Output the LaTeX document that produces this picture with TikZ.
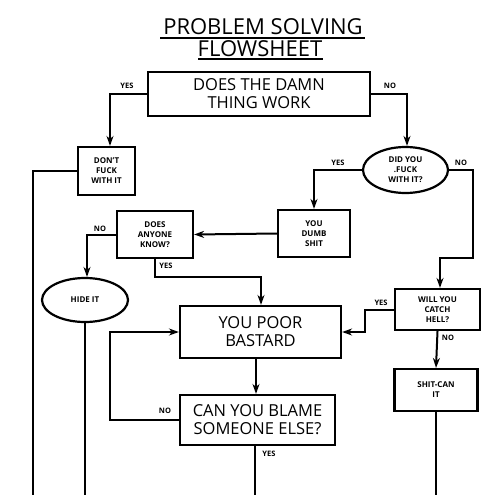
\documentclass[tikz,border=0pt]{standalone}
\usepackage{fontspec}
\setmainfont{Open Sans}
\usetikzlibrary{arrows.meta,shapes.geometric}
\begin{document}
\begin{tikzpicture}[x=1pt,y=-1pt,line width=2pt,
  box/.style={draw,rectangle,inner sep=0pt,align=center,line width=2.2pt},
  oval/.style={draw,ellipse,inner sep=0pt,align=center,line width=2.2pt},
  big/.style={font=\fontsize{16.5}{18}\selectfont},
  small/.style={font=\fontsize{8}{10}\selectfont\bfseries},
  lbl/.style={font=\fontsize{7.5}{9}\selectfont\bfseries,inner sep=0pt},
  arr/.style={-{Stealth[length=10pt,width=7pt]}},
  ln/.style={line width=2pt}]
\useasboundingbox (0,0) rectangle (500,495);
\fill[white] (0,0) rectangle (500,495);
% title
\node[font=\fontsize{22}{24}\selectfont,inner sep=0pt] (t1) at (263,27) {PROBLEM SOLVING};
\node[font=\fontsize{22}{24}\selectfont,inner sep=0pt] (t2) at (260,49) {FLOWSHEET};
\draw[line width=1.6pt] (160,38) -- (365,38);
\draw[line width=1.6pt] (198,59) -- (323,59);
% nodes
\node[box,big,minimum width=222pt,minimum height=44pt] (b1) at (259,94) {DOES THE DAMN\\THING WORK};
\node[box,small,minimum width=57pt,minimum height=48pt] (dont) at (106.5,171) {DON'T\\FUCK\\WITH IT};
\node[oval,small,minimum width=85pt,minimum height=46pt] (did) at (405.5,170) {DID YOU\\.FUCK\\WITH IT?};
\node[box,small,minimum width=72pt,minimum height=47pt] (dumb) at (314,233.5) {YOU\\DUMB\\SHIT};
\node[box,small,minimum width=76pt,minimum height=47pt] (anyone) at (155,234.5) {DOES\\ANYONE\\KNOW?};
\node[oval,small,minimum width=86pt,minimum height=44pt] (hide) at (85,300) {HIDE IT};
\node[box,big,minimum width=161pt,minimum height=52pt] (poor) at (260.5,332) {YOU POOR\\BASTARD};
\node[box,big,minimum width=155pt,minimum height=50pt] (blame) at (257.5,420) {CAN YOU BLAME\\SOMEONE ELSE?};
\node[box,small,minimum width=85pt,minimum height=41pt] (hell) at (437.5,309.5) {WILL YOU\\CATCH\\HELL?};
\node[box,small,minimum width=83pt,minimum height=42pt] (shit) at (436,390) {SHIT-CAN\\IT};
% coordinates
\coordinate (e1) at (33,495);
\coordinate (e2) at (85,495);
\coordinate (e3) at (255,495);
\coordinate (e4) at (436,495);
\coordinate (k1) at (473,258);
\coordinate (k2) at (261,277);
% connectors
\draw[ln,arr] (b1.west) -| ([xshift=3.5pt]dont.north);
\draw[ln,arr] (b1.east) -| ([xshift=1.5pt]did.north);
\draw[ln] (dont.west) -| (e1);
\draw[ln,arr] (did.west) -| (dumb.north);
\draw[ln,arr] (did.east) -| (k1) -| ([xshift=2.5pt]hell.north);
\draw[ln,arr] (dumb.west) -- (anyone.east);
\draw[ln,arr] (anyone.west) -| ([xshift=2pt]hide.north);
\draw[ln,arr] (anyone.south) |- (k2) -- (k2 |- poor.north);
\draw[ln] (hide.south) -- (e2);
\draw[ln,arr] (hell.west) -- ++(-29,0) |- (poor.east);
\draw[ln,arr] (blame.west) -- ++(-69,0) |- (poor.west);
\draw[ln,arr] (poor.south -| 256,0) -- (blame.north -| 256,0);
\draw[ln,arr] (hell.south) -- (shit.north);
\draw[ln] (shit.south) -- (e4);
\draw[ln] (blame.south -| e3) -- (e3);
% labels
\node[lbl] (l1) at (127,86) {YES};
\node[lbl] (l2) at (390,86) {NO};
\node[lbl] (l3) at (338,163) {YES};
\node[lbl] (l4) at (461,163) {NO};
\node[lbl] (l5) at (100,229) {NO};
\node[lbl] (l6) at (166,266) {YES};
\node[lbl] (l7) at (381,303) {YES};
\node[lbl] (l8) at (448,338) {NO};
\node[lbl] (l9) at (165,411) {NO};
\node[lbl] (l10) at (269,454) {YES};
\end{tikzpicture}
\end{document}
